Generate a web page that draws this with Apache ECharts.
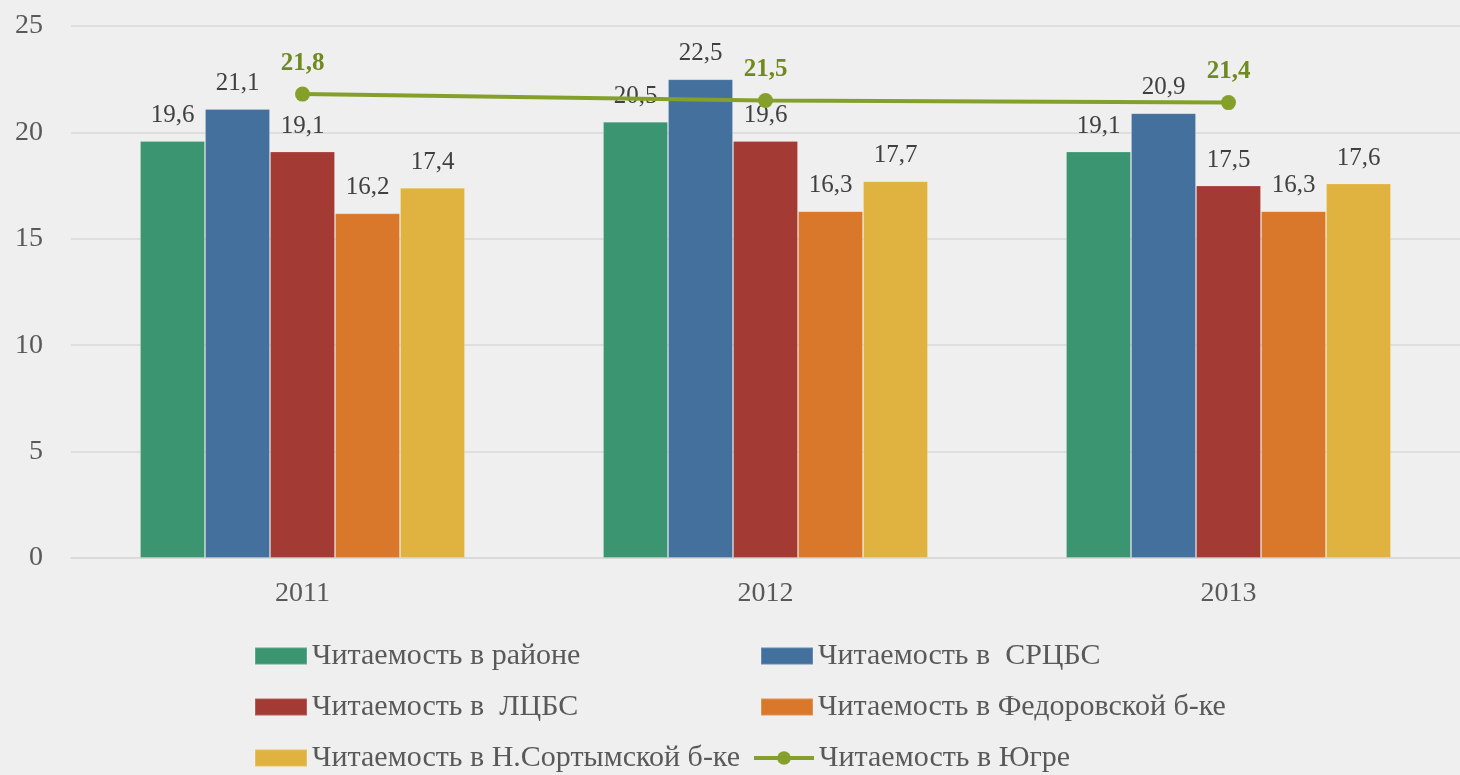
<!DOCTYPE html>
<html><head><meta charset="utf-8">
<script src="https://cdn.jsdelivr.net/npm/echarts@6/dist/echarts.min.js"></script>
<style>html,body{margin:0;padding:0;background:#efefef}#c{width:1460px;height:775px}</style>
</head><body><div id="c"></div>
<script>
const categories = ['2011', '2012', '2013'];
const rayon = [19.6, 20.5, 19.1];
const srcbs = [21.1, 22.5, 20.9];
const lcbs = [19.1, 19.6, 17.5];
const fedorov = [16.2, 16.3, 16.3];
const nsortym = [17.4, 17.7, 17.6];
const yugra = [21.8, 21.5, 21.4];
const yTicks = [0, 5, 10, 15, 20, 25];

const names = ['Читаемость в районе', 'Читаемость в  СРЦБС', 'Читаемость в  ЛЦБС',
  'Читаемость в Федоровской б-ке', 'Читаемость в Н.Сортымской б-ке', 'Читаемость в Югре'];
const colors = ['#3b9571', '#43709d', '#a33a33', '#d9782a', '#e0b340', '#84a02a'];
const FONT = '"Liberation Serif", "DejaVu Serif", serif';
const fmt = p => String(p.value).replace('.', ',');

const barData = [rayon, srcbs, lcbs, fedorov, nsortym];
const series = barData.map((d, i) => ({
  name: names[i], type: 'bar', data: d, barWidth: 65, barGap: '0%',
  itemStyle: { color: colors[i], borderColor: 'rgba(255,255,255,0.18)', borderWidth: 1 },
  label: { show: true, position: 'top', distance: 13, formatter: fmt,
    fontFamily: FONT, fontSize: 25, color: '#404040' }
}));
series.push({
  name: names[5], type: 'line', data: yugra, symbol: 'circle', symbolSize: 15,
  lineStyle: { color: colors[5], width: 4 }, itemStyle: { color: colors[5] },
  label: { show: true, position: 'top', distance: 11, formatter: fmt,
    fontFamily: FONT, fontSize: 25, fontWeight: 'bold', color: '#6f8a1f' },
  z: 5
});

const legendText = { fontFamily: FONT, fontSize: 30, color: '#595959' };
const rowTops = [641, 692, 743];
const colLefts = [254, 760];
const legends = names.map((n, i) => ({
  data: i < 5 ? [{ name: n, icon: 'rect' }] : [n],
  left: i === 5 ? 752 : colLefts[i % 2], top: rowTops[Math.floor(i / 2)], padding: 0,
  itemWidth: i === 5 ? 60 : 52, itemHeight: 17, textStyle: legendText,
  lineStyle: { width: 4 }
}));

const chart = echarts.init(document.getElementById('c'));
chart.setOption({
  backgroundColor: '#efefef',
  animation: false,
  grid: { left: 71, right: -18, top: 26, bottom: 217 },
  xAxis: { type: 'category', data: categories,
    axisLine: { show: true, lineStyle: { color: '#d9d9d9', width: 1.5 } },
    axisTick: { show: false },
    axisLabel: { fontFamily: FONT, fontSize: 28, color: '#595959', margin: 22 } },
  yAxis: { type: 'value', min: yTicks[0], max: yTicks[yTicks.length - 1], interval: 5,
    axisLine: { show: false }, axisTick: { show: false },
    splitLine: { lineStyle: { color: '#d9d9d9', width: 1.5 } },
    axisLabel: { fontFamily: FONT, fontSize: 28, color: '#595959', margin: 28 } },
  legend: legends,
  series
});
</script></body></html>
